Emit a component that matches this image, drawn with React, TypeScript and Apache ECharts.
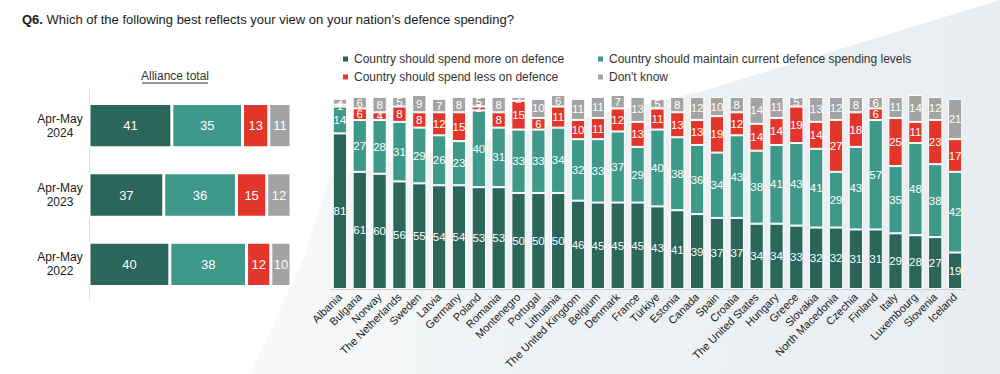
import React, { useEffect, useRef } from "react";
import * as echarts from "echarts";

const countries = [
  "Albania", "Bulgaria", "Norway", "The Netherlands", "Sweden", "Latvia", "Germany", "Poland",
  "Romania", "Montenegro", "Portugal", "Lithuania", "The United Kingdom", "Belgium", "Denmark",
  "France", "Türkiye", "Estonia", "Canada", "Spain", "Croatia", "The United States", "Hungary",
  "Greece", "Slovakia", "North Macedonia", "Czechia", "Finland", "Italy", "Luxembourg", "Slovenia", "Iceland",
];
const spendMore = [81, 61, 60, 56, 55, 54, 54, 53, 53, 50, 50, 50, 46, 45, 45, 45, 43, 41, 39, 37, 37, 34, 34, 33, 32, 32, 31, 31, 29, 28, 27, 19];
const maintain = [14, 27, 28, 31, 29, 26, 23, 40, 31, 33, 33, 34, 32, 33, 37, 29, 40, 38, 36, 34, 43, 38, 41, 43, 41, 29, 43, 57, 35, 48, 38, 42];
const spendLess = [1, 6, 4, 8, 8, 12, 15, 2, 8, 15, 6, 11, 10, 11, 12, 13, 11, 13, 13, 19, 12, 14, 14, 19, 14, 27, 18, 6, 25, 11, 23, 17];
const dontKnow = [3, 6, 8, 5, 9, 7, 8, 5, 8, 2, 10, 6, 11, 11, 7, 13, 5, 8, 12, 10, 8, 14, 11, 5, 13, 12, 8, 6, 11, 14, 12, 21];

const periods = ["Apr-May\n2024", "Apr-May\n2023", "Apr-May\n2022"];
const totalMore = [41, 37, 40];
const totalMaintain = [35, 36, 38];
const totalLess = [13, 15, 12];
const totalDontKnow = [11, 12, 10];

const NAMES = [
  "Country should spend more on defence",
  "Country should maintain current defence spending levels",
  "Country should spend less on defence",
  "Don't know",
];
const COLORS = ["#2b665b", "#3f998b", "#e2362b", "#a3a3a3"];
const FONT = "Liberation Sans, Arial, sans-serif";

export default function App() {
  const ref = useRef<HTMLDivElement>(null);
  useEffect(() => {
    if (!ref.current) return;
    const chart = echarts.init(ref.current, null, { renderer: "svg" });
    const rightData = [spendMore, maintain, spendLess, dontKnow];
    const leftData = [totalMore, totalMaintain, totalLess, totalDontKnow];
    const series: any[] = [];
    NAMES.forEach((name, i) => {
      series.push({
        name,
        type: "bar",
        stack: "left",
        xAxisIndex: 0,
        yAxisIndex: 0,
        data: leftData[i],
        barCategoryGap: "36%",
        itemStyle: { color: COLORS[i], borderColor: "#ffffff", borderWidth: 1.5 },
        label: { show: true, position: "inside", color: "#ffffff", fontSize: 13, fontFamily: FONT },
      });
    });
    NAMES.forEach((name, i) => {
      series.push({
        name,
        type: "bar",
        stack: "right",
        xAxisIndex: 1,
        yAxisIndex: 1,
        data: rightData[i],
        barCategoryGap: "28%",
        itemStyle: { color: COLORS[i], borderColor: "#ffffff", borderWidth: 1 },
        label: { show: true, position: "inside", color: "#ffffff", fontSize: 11.5, fontFamily: FONT },
      });
    });

    const legendText = { fontSize: 12, color: "#333333", fontFamily: FONT };
    chart.setOption({
      animation: false,
      backgroundColor: "#ffffff",
      textStyle: { fontFamily: FONT },
      graphic: [
        {
          type: "polygon",
          z: -10,
          silent: true,
          shape: { points: [[1000, 0], [1000, 374], [250, 374], [305, 255], [330, 175], [700, 92]] },
          style: {
            fill: new echarts.graphic.LinearGradient(
              250, 0, 1000, 0,
              [
                { offset: 0, color: "#f8f9fa" },
                { offset: 0.3, color: "#f0f3f5" },
                { offset: 1, color: "#e8edf1" },
              ],
              true
            ),
          },
        },
        {
          type: "text",
          left: 22,
          top: 13,
          style: {
            text: "{b|Q6.} Which of the following best reflects your view on your nation’s defence spending?",
            rich: {
              b: { fontWeight: "bold", fontSize: 13, fill: "#1a1a1a", fontFamily: FONT },
            },
            fontSize: 13,
            fill: "#1a1a1a",
            fontFamily: FONT,
          },
        },
        {
          type: "text",
          x: 175,
          y: 76,
          style: {
            text: "Alliance total",
            align: "center",
            verticalAlign: "middle",
            fontSize: 12,
            fill: "#333333",
            fontFamily: FONT,
          },
        },
        {
          type: "line",
          shape: { x1: 142, y1: 83, x2: 208, y2: 83 },
          style: { stroke: "#333333", lineWidth: 1 },
        },
      ],
      legend: [
        {
          data: [NAMES[0], NAMES[2]],
          orient: "vertical",
          left: 336,
          top: 48,
          itemWidth: 7,
          itemHeight: 7,
          itemGap: 6,
          icon: "rect",
          textStyle: legendText,
        },
        {
          data: [NAMES[1], NAMES[3]],
          orient: "vertical",
          left: 591,
          top: 48,
          itemWidth: 7,
          itemHeight: 7,
          itemGap: 6,
          icon: "rect",
          textStyle: legendText,
        },
      ],
      grid: [
        { left: 89, width: 202, top: 91, height: 208 },
        { left: 330, width: 635, top: 95, height: 194 },
      ],
      xAxis: [
        {
          type: "value",
          gridIndex: 0,
          min: 0,
          max: 100,
          show: false,
        },
        {
          type: "category",
          gridIndex: 1,
          data: countries,
          axisLine: { show: true, lineStyle: { color: "#d0d0d0" } },
          axisTick: { show: false },
          axisLabel: {
            interval: 0,
            rotate: 45,
            fontSize: 11,
            color: "#1a1a1a",
            margin: 6,
            fontFamily: FONT,
          },
        },
      ],
      yAxis: [
        {
          type: "category",
          gridIndex: 0,
          data: periods,
          inverse: true,
          axisLine: { show: true, lineStyle: { color: "#d9d9d9" } },
          axisTick: { show: false },
          axisLabel: {
            align: "center",
            margin: 29,
            fontSize: 12,
            lineHeight: 14,
            color: "#1a1a1a",
            fontFamily: FONT,
          },
        },
        {
          type: "value",
          gridIndex: 1,
          min: 0,
          max: 101,
          show: false,
        },
      ],
      series,
    });
    return () => chart.dispose();
  }, []);
  return (
    <div
      ref={ref}
      style={{ position: "absolute", left: 0, top: 0, width: 1000, height: 374 }}
    />
  );
}
